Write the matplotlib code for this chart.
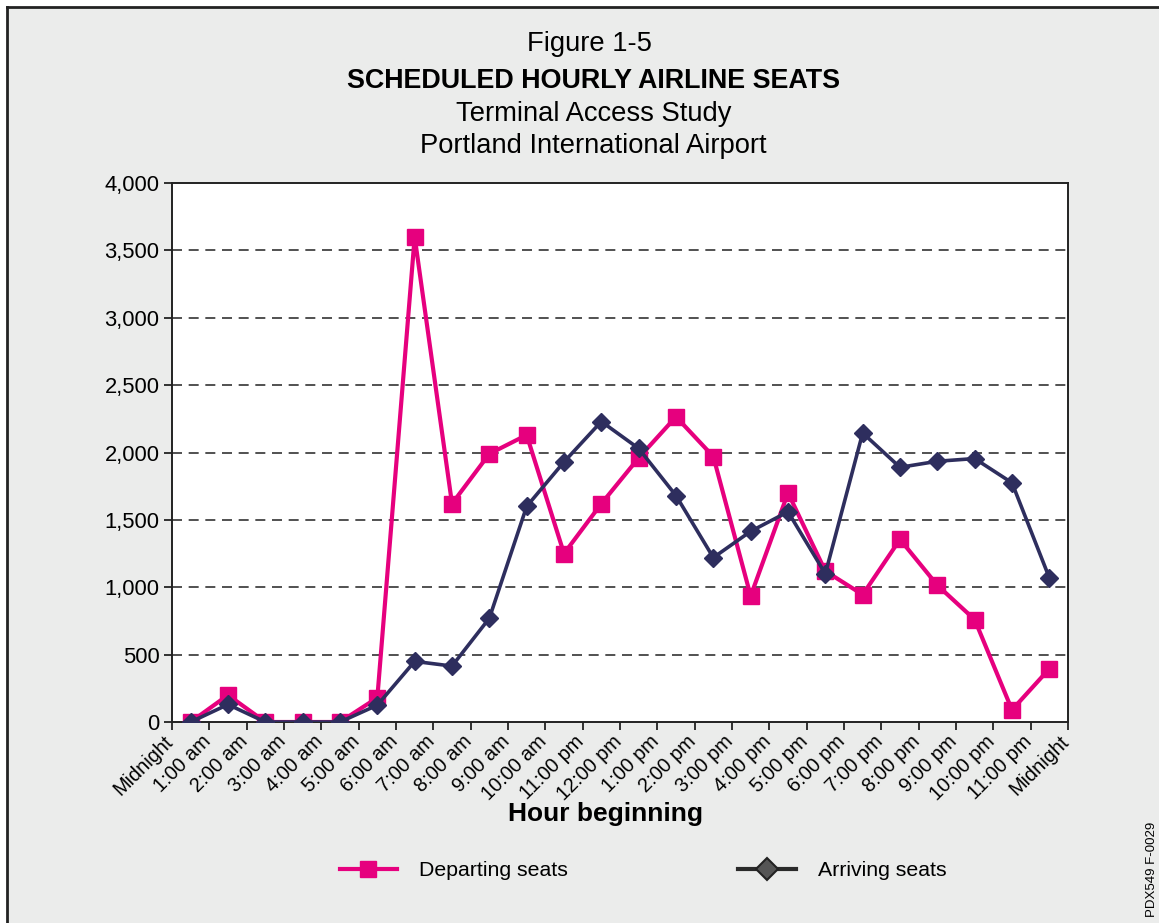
import matplotlib.pyplot as plt
import matplotlib.transforms as mtransforms
from matplotlib.lines import Line2D
from matplotlib.patches import Rectangle

plt.rcParams['font.family'] = ['Liberation Sans', 'DejaVu Sans']

# ---- data ----
hour_labels = ['Midnight', '1:00 am', '2:00 am', '3:00 am', '4:00 am', '5:00 am',
               '6:00 am', '7:00 am', '8:00 am', '9:00 am', '10:00 am', '11:00 pm',
               '12:00 pm', '1:00 pm', '2:00 pm', '3:00 pm', '4:00 pm', '5:00 pm',
               '6:00 pm', '7:00 pm', '8:00 pm', '9:00 pm', '10:00 pm', '11:00 pm',
               'Midnight']
departing = [0, 200, 0, 0, 0, 180, 3600, 1620, 1990, 2130, 1250, 1620,
             1960, 2265, 1970, 935, 1700, 1120, 945, 1355, 1015, 760, 90, 395]
arriving = [0, 130, 0, 0, 0, 125, 450, 415, 770, 1600, 1930, 2230,
            2030, 1680, 1220, 1415, 1560, 1100, 2145, 1890, 1935, 1955, 1775, 1070]

PINK = '#E6007E'
NAVY = '#2E2E5E'
BG = '#EBECEB'

fig = plt.figure(figsize=(11.59, 9.23), dpi=100, facecolor='white')

# grey panel with a black frame on top / left
W, H = 1159, 923
fig.patches.append(Rectangle((7 / W, 0), 1, 1 - 7 / H, transform=fig.transFigure,
                             facecolor=BG, edgecolor='none', zorder=-10))
fig.lines.append(Line2D([7 / W, 1], [1 - 7 / H, 1 - 7 / H], transform=fig.transFigure,
                        color='#222222', lw=2))
fig.lines.append(Line2D([7 / W, 7 / W], [0, 1 - 7 / H], transform=fig.transFigure,
                        color='#222222', lw=2))

ax = fig.add_axes([172 / W, 1 - 722 / H, (1068 - 172) / W, (722 - 183) / H])
ax.set_facecolor('white')

# points sit in the middle of each hour slot
xs = [i + 0.5 for i in range(len(departing))]
ax.plot(xs, departing, color=PINK, lw=3, marker='s', markersize=11, zorder=3)
ax.plot(xs, arriving, color=NAVY, lw=2.6, marker='D', markersize=9, zorder=4)

ax.set_xlim(0, 24)
ax.set_ylim(0, 4000)
ax.set_yticks(range(0, 4001, 500))
ax.set_yticklabels([f'{v:,}' for v in range(0, 4001, 500)], fontsize=15.8)
ax.set_xticks(range(25))
ax.set_xticklabels(hour_labels, fontsize=14.3, rotation=45, ha='right',
                   va='top', rotation_mode='anchor')
ax.tick_params(axis='both', direction='out', length=6, width=1.3, color='#222222')
ax.tick_params(axis='x', pad=1)
ax.tick_params(axis='y', pad=3)
# pull the slanted labels back so their ends sit under the ticks
shift = mtransforms.ScaledTranslation(-6 / 72, 0, fig.dpi_scale_trans)
for lab in ax.get_xticklabels():
    lab.set_transform(lab.get_transform() + shift)

for v in range(500, 4000, 500):
    ax.axhline(v, color='#333333', lw=1.2, ls=(0, (6, 4)), zorder=1)
for s in ax.spines.values():
    s.set_color('#222222')
    s.set_linewidth(1.4)

fig.text(605 / W, 1 - 814 / H, 'Hour beginning', ha='center', va='center',
         fontsize=19, fontweight='bold')

# titles
fig.text(0.509, 1 - 44 / H, 'Figure 1-5', ha='center', va='center', fontsize=19.7)
fig.text(0.512, 1 - 81 / H, 'SCHEDULED HOURLY AIRLINE SEATS', ha='center', va='center',
         fontsize=19.4, fontweight='bold')
fig.text(0.512, 1 - 114 / H, 'Terminal Access Study', ha='center', va='center',
         fontsize=19.7)
fig.text(0.512, 1 - 146 / H, 'Portland International Airport', ha='center', va='center',
         fontsize=19.7)

# legend (arriving key drawn with a grey-filled diamond, as in the original)
handles = [Line2D([], [], color=PINK, lw=3, marker='s', markersize=11),
           Line2D([], [], color='#2a2a2a', lw=3, marker='D', markersize=11,
                  markerfacecolor='#555555', markeredgecolor='#222222',
                  markeredgewidth=1.5)]
fig.legend(handles, ['Departing seats', 'Arriving seats'], loc='center',
           bbox_to_anchor=(643 / W, 1 - 871 / H), ncol=2, frameon=False,
           fontsize=15.3, handlelength=2.7, handletextpad=1.05, columnspacing=8.0)

fig.text(1152 / W, 1 - 822 / H, 'PDX549 F-0029', rotation=90, ha='center', va='top',
         fontsize=9.5)

plt.savefig('out.png', dpi=100, facecolor=fig.get_facecolor())
